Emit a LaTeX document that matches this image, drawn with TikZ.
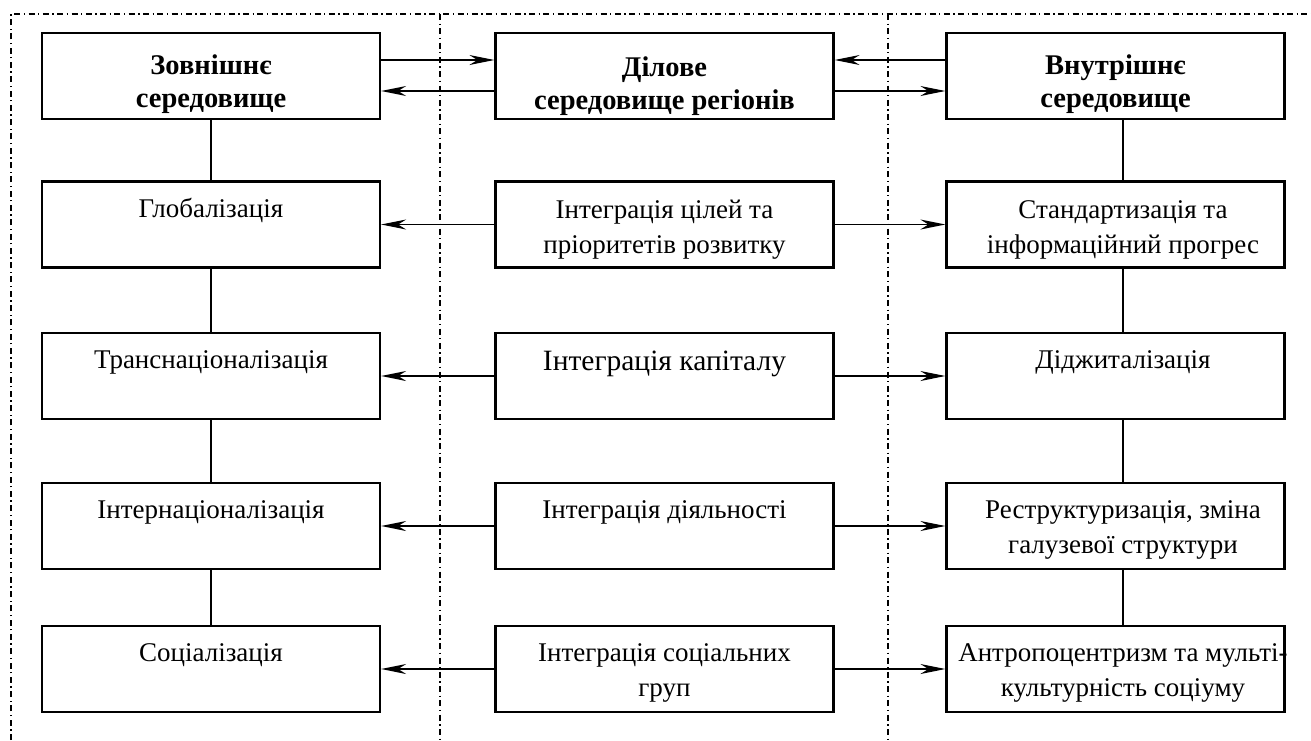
\documentclass[tikz,border=0pt]{standalone}
\usepackage{fontspec}
\setmainfont{Liberation Serif}
\usetikzlibrary{arrows.meta}
\begin{document}
\begin{tikzpicture}[x=1pt,y=-1pt,
  box/.style={draw, line width=2.2pt, minimum width=338pt, minimum height=86pt, inner sep=0pt},
  txt/.style={anchor=north, align=center, inner sep=0pt, font=\fontsize{27}{35}\selectfont},
  btxt/.style={anchor=north, align=center, inner sep=0pt, font=\fontsize{28.5}{33}\selectfont\bfseries},
  frameline/.style={line width=1.2pt, dash pattern=on 6pt off 3.5pt on 1.3pt off 3.5pt},
  link/.style={line width=1.5pt},
  arr/.style={link, -{Stealth[length=25pt,width=10pt,inset=8pt]}}
]
\useasboundingbox (0,0) rectangle (1311,740);
% frame
\draw[frameline] (11,740) -- (11,14) -- (1311,14);
\draw[frameline] (440,14) -- (440,740);
\draw[frameline] (888,14) -- (888,740);
% boxes
\foreach \r/\y in {1/76,2/224.5,3/376,4/526,5/669}{
  \node[box] (L\r) at (211,\y) {};
  \node[box] (M\r) at (664.5,\y) {};
  \node[box] (R\r) at (1115.5,\y) {};
}
% texts
\node[btxt] (tL1) at (211,51.5) {\strut Зовнішнє\\середовище};
\node[btxt] (tM1) at (664.5,53) {\strut Ділове\\середовище регіонів};
\node[btxt] (tR1) at (1115.5,51.5) {\strut Внутрішнє\\середовище};

\node[txt] (tL2) at (211,192.5) {\strut Глобалізація};
\node[txt] (tM2) at (664.5,193.5) {\strut Інтеграція цілей та\\пріоритетів розвитку};
\node[txt] (tR2) at (1123,193.5) {\strut Стандартизація та\\інформаційний прогрес};

\node[txt] (tL3) at (211,343.5) {\strut Транснаціоналізація};
\node[txt, font=\fontsize{29.5}{35}\selectfont] (tM3) at (664.5,345.5) {\strut Інтеграція капіталу};
\node[txt] (tR3) at (1123,343.5) {\strut Діджиталізація};

\node[txt] (tL4) at (211,493.5) {\strut Інтернаціоналізація};
\node[txt] (tM4) at (664.5,493.5) {\strut Інтеграція діяльності};
\node[txt] (tR4) at (1123,493.5) {\strut Реструктуризація, зміна\\галузевої структури};

\node[txt] (tL5) at (211,636.5) {\strut Соціалізація};
\node[txt] (tM5) at (664.5,636.5) {\strut Інтеграція соціальних\\груп};
\node[txt] (tR5) at (1123,636.5) {\strut Антропоцентризм та мульті-\\культурність соціуму};

% vertical links
\foreach \a/\b in {1/2,2/3,3/4,4/5}{
  \draw[link] (L\a.south) -- (L\b.north);
  \draw[link] ([xshift=7.5pt]R\a.south) -- ([xshift=7.5pt]R\b.north);
}
% row 1 arrows
\draw[arr] ([yshift=16pt]L1.east) -- ([yshift=16pt]M1.west);
\draw[arr] ([yshift=-15pt]M1.west) -- ([yshift=-15pt]L1.east);
\draw[arr] ([yshift=16pt]R1.west) -- ([yshift=16pt]M1.east);
\draw[arr] ([yshift=-15pt]M1.east) -- ([yshift=-15pt]R1.west);
% rows 2-5 arrows
\foreach \r in {2,3,4,5}{
  \draw[arr] (M\r.west) -- (L\r.east);
  \draw[arr] (M\r.east) -- (R\r.west);
}
\end{tikzpicture}
\end{document}
